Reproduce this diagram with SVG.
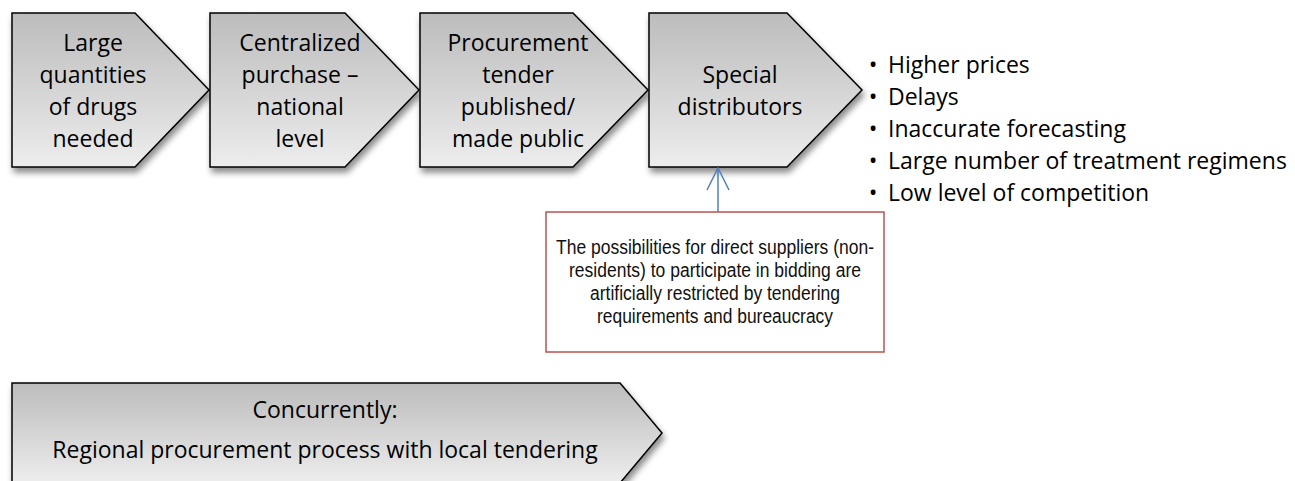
<svg xmlns="http://www.w3.org/2000/svg" width="1295" height="481" viewBox="0 0 1295 481">
<style>
.shape{fill:url(#g);stroke:#000;stroke-width:1.5;filter:url(#sh)}
.t{font-family:"Open Sans","Liberation Sans",sans-serif;font-size:23px;fill:#000;text-anchor:middle}
.b{font-family:"Open Sans","Liberation Sans",sans-serif;font-size:23px;fill:#000}
.r{font-family:"Liberation Sans",Arial,sans-serif;font-size:20px;fill:#111;text-anchor:middle}
</style>
<defs>
<linearGradient id="g" x1="0" y1="0" x2="0" y2="1">
<stop offset="0" stop-color="#bcbcbc"/>
<stop offset="1" stop-color="#ededed"/>
</linearGradient>
<filter id="sh" x="-10%" y="-10%" width="130%" height="140%">
<feDropShadow dx="2" dy="5" stdDeviation="3" flood-color="#000" flood-opacity="0.45"/>
</filter>
<marker id="ah" viewBox="0 0 24 24" markerWidth="24" markerHeight="24" refX="23" refY="12" orient="auto" markerUnits="userSpaceOnUse">
<path d="M1,1 L23,12 L1,23" fill="none" stroke="#4f81bd" stroke-width="1.5"/>
</marker>
</defs>
<g id="n1"><path class="shape" d="M12,13 H135 L209,90 L135,167 H12 Z"/>
<text class="t" x="93" y="51">Large</text><text class="t" x="93" y="83">quantities</text><text class="t" x="93" y="115">of drugs</text><text class="t" x="93" y="147">needed</text></g>
<g id="n2"><path class="shape" d="M210,13 H345 L419,90 L345,167 H210 Z"/>
<text class="t" x="300" y="51">Centralized</text><text class="t" x="300" y="83">purchase –</text><text class="t" x="300" y="115">national</text><text class="t" x="300" y="147">level</text></g>
<g id="n3"><path class="shape" d="M420,13 H573 L648,90 L573,167 H420 Z"/>
<text class="t" x="518" y="51">Procurement</text><text class="t" x="518" y="83">tender</text><text class="t" x="518" y="115">published/</text><text class="t" x="518" y="147">made public</text></g>
<g id="n4"><path class="shape" d="M649,13 H787 L862,90 L787,167 H649 Z"/>
<text class="t" x="740" y="83">Special</text><text class="t" x="740" y="115">distributors</text></g>
<g id="list">
<text class="t" x="873" y="73">•</text><text class="b" x="888" y="73">Higher prices</text>
<text class="t" x="873" y="105">•</text><text class="b" x="888" y="105">Delays</text>
<text class="t" x="873" y="137">•</text><text class="b" x="888" y="137">Inaccurate forecasting</text>
<text class="t" x="873" y="169">•</text><text class="b" x="888" y="169">Large number of treatment regimens</text>
<text class="t" x="873" y="201">•</text><text class="b" x="888" y="201">Low level of competition</text>
</g>
<g id="note"><rect x="546" y="212" width="338" height="140" fill="#fff" stroke="#c0504d" stroke-width="1.5"/>
<text class="r" x="715" y="254" textLength="318" lengthAdjust="spacingAndGlyphs">The possibilities for direct suppliers (non-</text>
<text class="r" x="715" y="277" textLength="292" lengthAdjust="spacingAndGlyphs">residents) to participate in bidding are</text>
<text class="r" x="715" y="300" textLength="250" lengthAdjust="spacingAndGlyphs">artificially restricted by tendering</text>
<text class="r" x="715" y="323" textLength="236" lengthAdjust="spacingAndGlyphs">requirements and bureaucracy</text></g>
<g id="n5"><path class="shape" d="M12,383 H620 L662,433 L620,483 H12 Z"/>
<text class="t" x="325" y="418">Concurrently:</text>
<text class="t" x="325" y="458">Regional procurement process with local tendering</text></g>
<g id="connectors"><line x1="718" y1="212" x2="718" y2="168" stroke="#4f81bd" stroke-width="1.5" marker-end="url(#ah)"/></g>
</svg>
